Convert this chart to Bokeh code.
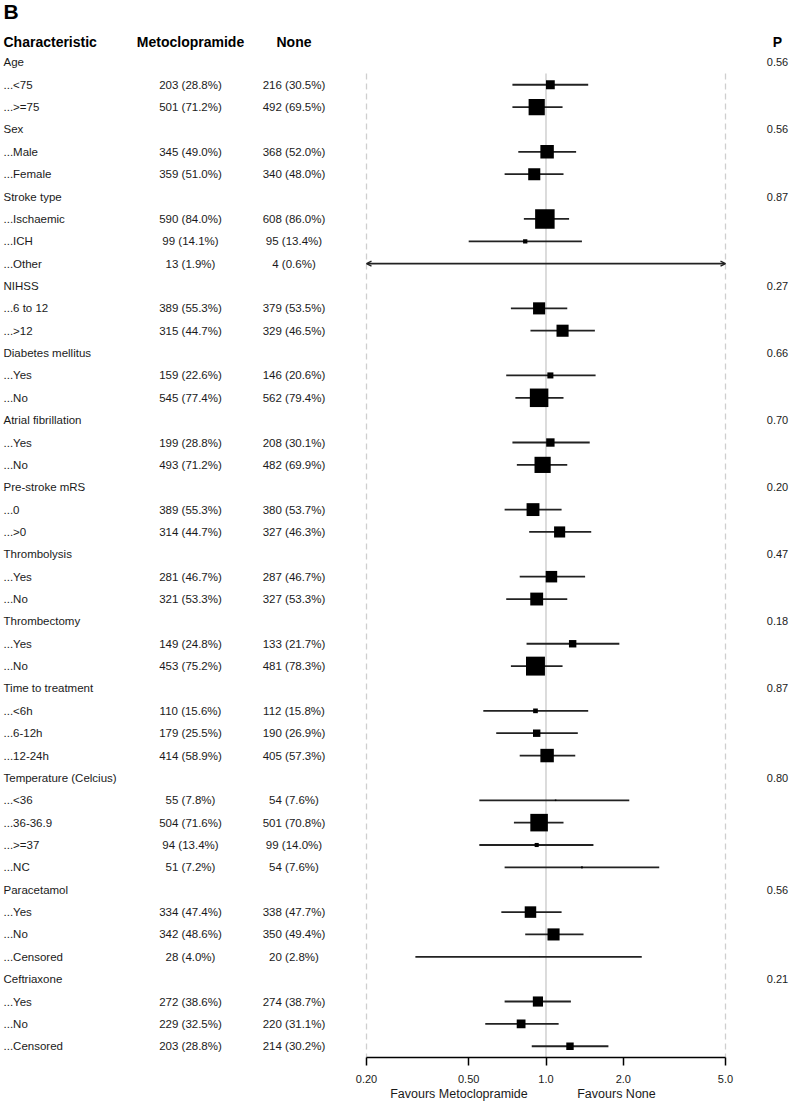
import math
from bokeh.plotting import figure
from bokeh.models import (Range1d, LinearScale, FixedTicker, ColumnDataSource,
                          LogAxis, Arrow, OpenHead)
from bokeh.core.properties import value
from bokeh.embed import file_html
from bokeh.resources import INLINE

# ---------------- data ----------------
row_labels = [
    "Age", "...<75", "...>=75",
    "Sex", "...Male", "...Female",
    "Stroke type", "...Ischaemic", "...ICH", "...Other",
    "NIHSS", "...6 to 12", "...>12",
    "Diabetes mellitus", "...Yes", "...No",
    "Atrial fibrillation", "...Yes", "...No",
    "Pre-stroke mRS", "...0", "...>0",
    "Thrombolysis", "...Yes", "...No",
    "Thrombectomy", "...Yes", "...No",
    "Time to treatment", "...<6h", "...6-12h", "...12-24h",
    "Temperature (Celcius)", "...<36", "...36-36.9", "...>=37", "...NC",
    "Paracetamol", "...Yes", "...No", "...Censored",
    "Ceftriaxone", "...Yes", "...No", "...Censored",
]
metoclopramide_n = [
    "", "203 (28.8%)", "501 (71.2%)",
    "", "345 (49.0%)", "359 (51.0%)",
    "", "590 (84.0%)", "99 (14.1%)", "13 (1.9%)",
    "", "389 (55.3%)", "315 (44.7%)",
    "", "159 (22.6%)", "545 (77.4%)",
    "", "199 (28.8%)", "493 (71.2%)",
    "", "389 (55.3%)", "314 (44.7%)",
    "", "281 (46.7%)", "321 (53.3%)",
    "", "149 (24.8%)", "453 (75.2%)",
    "", "110 (15.6%)", "179 (25.5%)", "414 (58.9%)",
    "", "55 (7.8%)", "504 (71.6%)", "94 (13.4%)", "51 (7.2%)",
    "", "334 (47.4%)", "342 (48.6%)", "28 (4.0%)",
    "", "272 (38.6%)", "229 (32.5%)", "203 (28.8%)",
]
none_n = [
    "", "216 (30.5%)", "492 (69.5%)",
    "", "368 (52.0%)", "340 (48.0%)",
    "", "608 (86.0%)", "95 (13.4%)", "4 (0.6%)",
    "", "379 (53.5%)", "329 (46.5%)",
    "", "146 (20.6%)", "562 (79.4%)",
    "", "208 (30.1%)", "482 (69.9%)",
    "", "380 (53.7%)", "327 (46.3%)",
    "", "287 (46.7%)", "327 (53.3%)",
    "", "133 (21.7%)", "481 (78.3%)",
    "", "112 (15.8%)", "190 (26.9%)", "405 (57.3%)",
    "", "54 (7.6%)", "501 (70.8%)", "99 (14.0%)", "54 (7.6%)",
    "", "338 (47.7%)", "350 (49.4%)", "20 (2.8%)",
    "", "274 (38.7%)", "220 (31.1%)", "214 (30.2%)",
]
N = None
estimate = [
    N, 1.04, 0.92,
    N, 1.01, 0.90,
    N, 0.99, 0.83, N,
    N, 0.94, 1.16,
    N, 1.04, 0.94,
    N, 1.04, 0.97,
    N, 0.89, 1.13,
    N, 1.05, 0.92,
    N, 1.27, 0.91,
    N, 0.91, 0.92, 1.01,
    N, 1.09, 0.94, 0.92, 1.38,
    N, 0.87, 1.07, 0.86,
    N, 0.93, 0.80, 1.24,
]
lower = [
    N, 0.74, 0.74,
    N, 0.78, 0.69,
    N, 0.82, 0.50, 0.10,
    N, 0.73, 0.87,
    N, 0.70, 0.76,
    N, 0.74, 0.77,
    N, 0.69, 0.86,
    N, 0.79, 0.70,
    N, 0.84, 0.73,
    N, 0.57, 0.64, 0.79,
    N, 0.55, 0.75, 0.55, 0.69,
    N, 0.67, 0.83, 0.31,
    N, 0.69, 0.58, 0.88,
]
upper = [
    N, 1.46, 1.16,
    N, 1.31, 1.17,
    N, 1.23, 1.38, 10.0,
    N, 1.21, 1.55,
    N, 1.56, 1.17,
    N, 1.48, 1.21,
    N, 1.15, 1.50,
    N, 1.42, 1.21,
    N, 1.93, 1.16,
    N, 1.46, 1.33, 1.30,
    N, 2.11, 1.17, 1.53, 2.76,
    N, 1.15, 1.40, 2.36,
    N, 1.25, 1.12, 1.75,
]
box_weight = [
    N, 0.45, 0.83,
    N, 0.69, 0.62,
    N, 1.00, 0.22, N,
    N, 0.62, 0.62,
    N, 0.31, 0.95,
    N, 0.43, 0.83,
    N, 0.66, 0.57,
    N, 0.59, 0.66,
    N, 0.38, 0.97,
    N, 0.24, 0.38, 0.69,
    N, 0.08, 0.90, 0.21, 0.10,
    N, 0.59, 0.62, 0.02,
    N, 0.52, 0.45, 0.38,
]
p_values = [
    "0.56", "", "",
    "0.56", "", "",
    "0.87", "", "", "",
    "0.27", "", "",
    "0.66", "", "",
    "0.70", "", "",
    "0.20", "", "",
    "0.47", "", "",
    "0.18", "", "",
    "0.87", "", "", "",
    "0.80", "", "", "", "",
    "0.56", "", "", "",
    "0.21", "", "", "",
]
axis_ticks = [0.2, 0.5, 1.0, 2.0, 5.0]
axis_tick_labels = ["0.20", "0.50", "1.0", "2.0", "5.0"]
favour_labels = ["Favours Metoclopramide", "Favours None"]

# ---------------- layout ----------------
W, H = 790, 1103
FRAME_H = 1057
ROW0, ROWH = 61.9, 22.36
X_LO, X_HI = axis_ticks[0], axis_ticks[-1]
X0_PX, X1_PX = 366, 725
ppd = (X1_PX - X0_PX) / (math.log10(X_HI) - math.log10(X_LO))
xs = 10 ** (math.log10(X_LO) - X0_PX / ppd)
xe = 10 ** (math.log10(X_HI) + (W - X1_PX) / ppd)
y_bottom = (FRAME_H - ROW0) / ROWH
y_top = -ROW0 / ROWH

def row_of(px):
    return (px - ROW0) / ROWH

FONT = value("Liberation Sans")
TXT = "#1a1a1a"
COL_MET, COL_NONE, COL_P = 190, 293.5, 777

p = figure(width=W, height=H, x_axis_type="log",
           x_range=Range1d(xs, xe), y_range=Range1d(y_bottom, y_top),
           y_axis_location=None, title=None,
           output_backend="svg", toolbar_location=None,
           min_border_left=0, min_border_right=0, min_border_top=0,
           min_border_bottom=H - FRAME_H)
p.extra_x_ranges = {"tab": Range1d(0, W)}
p.extra_x_scales = {"tab": LinearScale()}
p.xgrid.visible = False
p.ygrid.visible = False
p.outline_line_color = None
p.background_fill_color = "white"
p.border_fill_color = "white"

ys = list(range(len(row_labels)))

# reference lines
p.segment(x0=[X_LO, X_HI], y0=[0.5, 0.5], x1=[X_LO, X_HI], y1=[y_bottom, y_bottom],
          line_color="#cfcfcf", line_width=1.3, line_dash="6 4")
p.segment(x0=[1.0], y0=[0.5], x1=[1.0], y1=[y_bottom],
          line_color="#c4c4c4", line_width=1.2)

# CIs and boxes
ci = dict(y=[], lo=[], hi=[])
box = dict(y=[], est=[], size=[])
for i in ys:
    lo, hi, e, w = lower[i], upper[i], estimate[i], box_weight[i]
    if lo is None:
        continue
    clip_lo, clip_hi = lo < X_LO, hi > X_HI
    l, h = max(lo, X_LO), min(hi, X_HI)
    if clip_lo or clip_hi:
        p.add_layout(Arrow(x_start=l, y_start=i, x_end=h, y_end=i,
                           line_width=1.8, line_color="#222222",
                           start=OpenHead(size=5, line_width=1.3, line_color="#222222") if clip_lo else None,
                           end=OpenHead(size=5, line_width=1.3, line_color="#222222") if clip_hi else None))
    else:
        ci["y"].append(i); ci["lo"].append(l); ci["hi"].append(h)
    if e is not None and w is not None:
        box["y"].append(i); box["est"].append(e); box["size"].append(w * 19.5)

p.segment(x0="lo", y0="y", x1="hi", y1="y", source=ColumnDataSource(ci),
          line_color="#222222", line_width=1.8)
p.scatter(x="est", y="y", size="size", marker="square", source=ColumnDataSource(box),
          fill_color="black", line_color=None)

# table text
tsrc = ColumnDataSource(dict(y=ys, lab=row_labels, met=metoclopramide_n,
                             non=none_n, pv=p_values))
common = dict(y="y", source=tsrc, x_range_name="tab", text_font=FONT,
              text_font_size="11.5px", text_color=TXT, text_baseline="middle")
p.text(x=3, text="lab", text_align="left", **common)
p.text(x=COL_MET, text="met", text_align="center", **common)
p.text(x=COL_NONE, text="non", text_align="center", **common)
p.text(x=COL_P, text="pv", text_align="center", text_font=FONT, y="y", source=tsrc,
       x_range_name="tab", text_font_size="11px", text_color=TXT, text_baseline="middle")

# headers
hy = row_of(41)
hsrc = ColumnDataSource(dict(x=[3, COL_MET, COL_NONE, COL_P], y=[hy] * 4,
                             t=["Characteristic", "Metoclopramide", "None", "P"],
                             a=["left", "center", "center", "center"]))
p.text(x="x", y="y", text="t", text_align="a", source=hsrc, x_range_name="tab",
       text_font=FONT, text_font_style="bold", text_font_size="14px",
       text_color="black", text_baseline="middle")
p.text(x=[3], y=[row_of(11)], text=["B"], x_range_name="tab", text_font=FONT,
       text_font_style="bold", text_font_size="21px", text_color="black",
       text_baseline="middle", text_align="left")

# axis
ax = p.xaxis[0]
ax.ticker = FixedTicker(ticks=axis_ticks, minor_ticks=[])
ax.major_label_overrides = {t: s for t, s in zip(axis_ticks, axis_tick_labels)}
ax.bounds = (X_LO, X_HI)
ax.axis_line_width = 1.5
ax.axis_line_color = "black"
ax.major_tick_line_width = 1.5
ax.major_tick_line_color = "black"
ax.major_tick_out = 8
ax.major_tick_in = 0
ax.minor_tick_out = 0
ax.minor_tick_in = 0
ax.major_label_standoff = 9
ax.major_label_text_font = "Liberation Sans"
ax.major_label_text_font_size = "11px"
ax.major_label_text_color = TXT

# second axis carrying the "Favours" captions, anchored on the null line (1.0)
fav_pos = [10 ** (-87 / ppd), 10 ** (70.5 / ppd)]
fav_axis = LogAxis(ticker=FixedTicker(ticks=fav_pos, minor_ticks=[]),
                   major_label_overrides={t: s for t, s in zip(fav_pos, favour_labels)},
                   axis_line_color=None, major_tick_line_color=None,
                   minor_tick_line_color=None, major_tick_out=0, major_tick_in=0,
                   minor_tick_out=0, minor_tick_in=0, major_label_standoff=1,
                   major_label_text_font="Liberation Sans",
                   major_label_text_font_size="12.5px", major_label_text_color=TXT)
p.add_layout(fav_axis, "below")

open("out.html", "w").write(file_html(p, INLINE))
